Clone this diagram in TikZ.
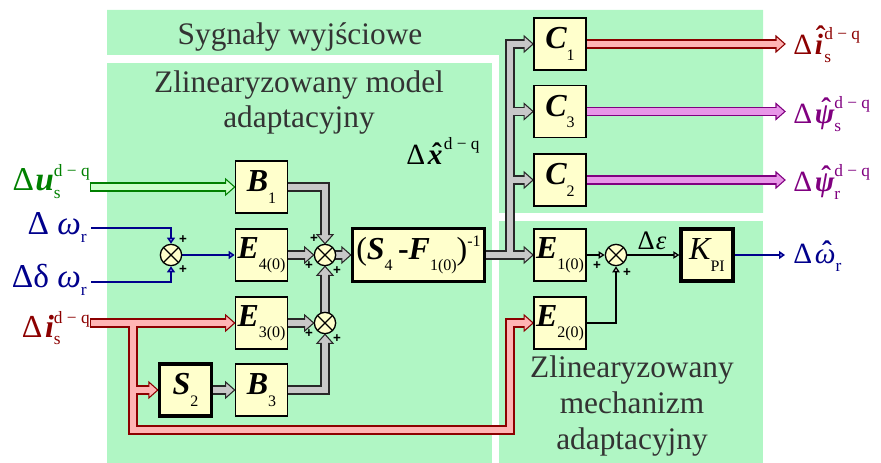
\documentclass[tikz,border=0pt]{standalone}
\usepackage{fontspec}
\setmainfont{Liberation Serif}
\setsansfont{Liberation Sans}
\usetikzlibrary{arrows.meta}
\pgfdeclarelayer{regions}
\pgfdeclarelayer{arrows}
\pgfsetlayers{regions,arrows,main}
\definecolor{regiongreen}{RGB}{176,246,196}
\definecolor{boxy}{RGB}{255,255,204}
\definecolor{titlegray}{RGB}{51,51,51}
\definecolor{ugreen}{RGB}{0,128,0}
\definecolor{ufill}{RGB}{204,255,204}
\definecolor{wblue}{RGB}{0,0,140}
\definecolor{tipblue}{RGB}{150,150,255}
\definecolor{ired}{RGB}{140,0,0}
\definecolor{ifill}{RGB}{255,180,180}
\definecolor{pviolet}{RGB}{128,0,128}
\definecolor{pfill}{RGB}{232,150,232}
\definecolor{gborder}{RGB}{40,40,40}
\definecolor{gfill}{RGB}{200,200,200}
\definecolor{tipgray}{RGB}{190,190,190}
\newcommand\fsz[1]{\fontsize{#1}{#1}\selectfont}
\newcommand\bi[1]{{\bfseries\itshape #1}}
\newcommand\bsub[1]{\raisebox{-8.5pt}{\fsz{12}#1}}
\newcommand\supsb[3][10.5pt]{\setbox0\hbox{\fsz{13}\raisebox{#1}{#2}}\setbox2\hbox{\fsz{13}\raisebox{-5.5pt}{#3}}\ifdim\wd0>\wd2\relax\rlap{\box2}\box0\else\rlap{\box0}\box2\fi}
\newcommand\lsub[1]{\raisebox{-6pt}{\fsz{13}#1}}
\newcommand\hatit[2][0.12em]{\setbox0\hbox{#2}\rlap{\hbox to\wd0{\hss\kern#1\raisebox{\dimexpr\ht0-0.42em\relax}{\bfseries ˆ}\hss}}\box0}
\newcommand\hdR[3]{\filldraw[fill=#2,draw=#1,line width=0.8pt,line join=miter] (#3) -- ++(-9,-8) -- ++(0,16) -- cycle;}
\newcommand\hdD[3]{\filldraw[fill=#2,draw=#1,line width=0.8pt,line join=miter] (#3) -- ++(-8,-9) -- ++(16,0) -- cycle;}
\newcommand\hdU[3]{\filldraw[fill=#2,draw=#1,line width=0.8pt,line join=miter] (#3) -- ++(-8,9) -- ++(16,0) -- cycle;}
\begin{document}
\begin{tikzpicture}[x=0.75pt,y=-0.75pt,
  box/.style={draw=black,line width=1.3pt,fill=boxy,minimum width=39pt,minimum height=39pt,inner sep=0pt,font=\fsz{24}},
  tbox/.style={box,line width=2.5pt},
  sumn/.style={circle,draw=black,line width=1pt,fill=boxy,minimum size=16pt,inner sep=0pt,
    path picture={\draw[line width=1pt] (path picture bounding box.north west) -- (path picture bounding box.south east)
      (path picture bounding box.north east) -- (path picture bounding box.south west);}},
  plus/.style={font=\sffamily\bfseries\fsz{10},inner sep=0pt},
  title/.style={anchor=base,text=titlegray,font=\fontsize{23.5}{27}\selectfont,inner sep=0pt},
  lbl/.style={inner sep=0pt},
  fatb/.style={line width=6.8pt,line join=miter,shorten >=6.4pt,shorten <=-0.8pt},
  fatf/.style={line width=5.1pt,line join=miter,shorten >=5.3pt},
  thinb/.style={draw=wblue,line width=1.1pt,-{Triangle[length=4.5pt,width=6pt,fill=tipblue]}},
  think/.style={draw=black,line width=0.9pt,-{Triangle[length=4.5pt,width=5.5pt,fill=tipgray]}}]
\useasboundingbox (0,0) rectangle (881,463);
\begin{pgfonlayer}{regions}
\fill[regiongreen] (107,10) -- (763,10) -- (763,213) -- (499,213) -- (499,55) -- (107,55) -- cycle;
\fill[regiongreen] (107,63) rectangle (492,463);
\fill[regiongreen] (499,221) rectangle (763,463);
\end{pgfonlayer}
% region titles
\node[title] (t1) at (300,45) {Sygnały wyjściowe};
\node[title] (t2a) at (299,93) {Zlinearyzowany model};
\node[title] (t2b) at (299,128) {adaptacyjny};
\node[title] (t3a) at (632,377) {Zlinearyzowany};
\node[title] (t3b) at (632,413) {mechanizm};
\node[title] (t3c) at (632,449) {adaptacyjny};
% blocks
\node[box] (B1) at (261.5,187) {\bi{B}\bsub{1}};
\node[box] (E4) at (261.5,255) {\bi{E}\bsub{4(0)}};
\node[box] (E3) at (261.5,323) {\bi{E}\bsub{3(0)}};
\node[tbox] (S2) at (185.5,390) {\bi{S}\bsub{2}};
\node[box] (B3) at (261.5,390) {\bi{B}\bsub{3}};
\node[tbox,minimum width=99pt,minimum height=40pt] (Blk) at (418.5,255) {(\bi{S}\bsub{4}\,{\bfseries -}\bi{F}\bsub{1(0)})\raisebox{10pt}{\fsz{12}-1}};
\node[box] (C1) at (560,44) {\bi{C}\bsub{1}};
\node[box] (C3) at (560,111.5) {\bi{C}\bsub{3}};
\node[box] (C2) at (560,180) {\bi{C}\bsub{2}};
\node[box] (E1) at (560,255) {\bi{E}\bsub{1(0)}};
\node[box] (E2) at (560,323) {\bi{E}\bsub{2(0)}};
\node[tbox] (KPI) at (707,255) {{\itshape K}\bsub{PI}};
% summing junctions
\node[sumn] (s1) at (171,255) {};
\node[sumn] (s2) at (325,255) {};
\node[sumn] (s3) at (325,323) {};
\node[sumn] (s4) at (616,255) {};
\node[plus] (p1) at (183,240) {+};
\node[plus] (p2) at (183,270) {+};
\node[plus] (p3) at (314,239) {+};
\node[plus] (p4) at (309,266) {+};
\node[plus] (p5) at (337,271) {+};
\node[plus] (p6) at (309,334) {+};
\node[plus] (p7) at (337,339) {+};
\node[plus] (p8) at (597,266) {+};
\node[plus] (p9) at (627,273) {+};
% signal labels
\node[lbl,anchor=base east,text=ugreen,font=\fsz{25}] (lu) at (90,191) {Δ\kern1pt\bi{u}\supsb{d − q}{s}};
\node[lbl,anchor=base east,text=wblue,font=\fsz{25}] (lw) at (87,234) {Δ {\itshape ω}\lsub{r}};
\node[lbl,anchor=base east,text=wblue,font=\fsz{25}] (ldw) at (87,287) {Δδ {\itshape ω}\lsub{r}};
\node[lbl,anchor=base east,text=ired,font=\fsz{24}] (li) at (90,337) {Δ\kern2pt\bi{i}\supsb{d − q}{s}};
\node[lbl,anchor=base west,text=ired,font=\fsz{22}] (lo1) at (793,55) {Δ\kern2pt\hatit{\bi{i}}\kern1pt\supsb[11.5pt]{d − q}{s}};
\node[lbl,anchor=base west,text=pviolet,font=\fsz{22}] (lo3) at (793,124) {Δ\kern2pt\hatit{\bi{ψ}}\supsb[11.5pt]{d − q}{s}};
\node[lbl,anchor=base west,text=pviolet,font=\fsz{22}] (lo2) at (793,192) {Δ\kern2pt\hatit{\bi{ψ}}\supsb[11.5pt]{d − q}{r}};
\node[lbl,anchor=base west,text=wblue,font=\fsz{22}] (low) at (793,263) {Δ\kern2pt\hatit{\itshape ω}\lsub{r}};
\node[lbl,anchor=base west,font=\fsz{22}] (lx) at (406,165) {Δ\kern2pt\hatit{\bi{x}}\kern1pt\raisebox{11.5pt}{\fsz{13}d − q}};
\node[lbl,anchor=base,font=\fsz{20}] (le) at (652,250) {Δ\kern1pt{\itshape ε}};
% free ends
\coordinate (uin) at (91,187);
\coordinate (win) at (91,228);
\coordinate (dwin) at (91,282);
\coordinate (iin) at (91,323);
\coordinate (pb) at (133,323);
\coordinate (pc) at (133,430);
\coordinate (pd) at (510,430);
\coordinate (tb) at (510,255);
\coordinate (o1) at (785,44);
\coordinate (o3) at (785,111.5);
\coordinate (o2) at (785,180);
\coordinate (ow) at (785,255);
\begin{pgfonlayer}{arrows}
% green input
\draw[fatb,draw=ugreen] (uin) -- (B1.west);
\hdR{ugreen}{ufill}{B1.west}
\draw[fatf,draw=ufill] (uin) -- (B1.west);
% gray network
\draw[fatb,draw=gborder] (B1.east) -- (B1.east -| s2) -- (s2.north);
\draw[fatb,draw=gborder] (E4.east) -- (s2.west);
\draw[fatb,draw=gborder] (s3.north) -- (s2.south);
\draw[fatb,draw=gborder] (E3.east) -- (s3.west);
\draw[fatb,draw=gborder] (B3.east) -- (B3.east -| s3) -- (s3.south);
\draw[fatb,draw=gborder] (S2.east) -- (B3.west);
\draw[fatb,draw=gborder] (s2.east) -- (Blk.west);
\draw[fatb,draw=gborder] (Blk.east) -- (E1.west);
\draw[fatb,draw=gborder] (tb) -- (tb |- C1) -- (C1.west);
\draw[fatb,draw=gborder] (tb |- C3) -- (C3.west);
\draw[fatb,draw=gborder] (tb |- C2) -- (C2.west);
\hdD{gborder}{gfill}{s2.north}
\hdR{gborder}{gfill}{s2.west}
\hdU{gborder}{gfill}{s2.south}
\hdR{gborder}{gfill}{s3.west}
\hdU{gborder}{gfill}{s3.south}
\hdR{gborder}{gfill}{B3.west}
\hdR{gborder}{gfill}{Blk.west}
\hdR{gborder}{gfill}{E1.west}
\hdR{gborder}{gfill}{C1.west}
\hdR{gborder}{gfill}{C3.west}
\hdR{gborder}{gfill}{C2.west}
\draw[fatf,draw=gfill] (B1.east) -- (B1.east -| s2) -- (s2.north);
\draw[fatf,draw=gfill] (E4.east) -- (s2.west);
\draw[fatf,draw=gfill] (s3.north) -- (s2.south);
\draw[fatf,draw=gfill] (E3.east) -- (s3.west);
\draw[fatf,draw=gfill] (B3.east) -- (B3.east -| s3) -- (s3.south);
\draw[fatf,draw=gfill] (S2.east) -- (B3.west);
\draw[fatf,draw=gfill] (s2.east) -- (Blk.west);
\draw[fatf,draw=gfill] (Blk.east) -- (E1.west);
\draw[fatf,draw=gfill] (tb) -- (tb |- C1) -- (C1.west);
\draw[fatf,draw=gfill] (tb |- C3) -- (C3.west);
\draw[fatf,draw=gfill] (tb |- C2) -- (C2.west);
% red network
\draw[fatb,draw=ired] (iin) -- (E3.west);
\draw[fatb,draw=ired] (pb) -- (pc) -- (pd) -- (pd |- E2) -- (E2.west);
\draw[fatb,draw=ired] (pb |- S2) -- (S2.west);
\draw[fatb,draw=ired] (C1.east) -- (o1);
\hdR{ired}{ifill}{E3.west}
\hdR{ired}{ifill}{E2.west}
\hdR{ired}{ifill}{S2.west}
\hdR{ired}{ifill}{o1}
\draw[fatf,draw=ifill] (iin) -- (E3.west);
\draw[fatf,draw=ifill] (pb) -- (pc) -- (pd) -- (pd |- E2) -- (E2.west);
\draw[fatf,draw=ifill] (pb |- S2) -- (S2.west);
\draw[fatf,draw=ifill] (C1.east) -- (o1);
% violet outputs
\draw[fatb,draw=pviolet] (C3.east) -- (o3);
\draw[fatb,draw=pviolet] (C2.east) -- (o2);
\hdR{pviolet}{pfill}{o3}
\hdR{pviolet}{pfill}{o2}
\draw[fatf,draw=pfill] (C3.east) -- (o3);
\draw[fatf,draw=pfill] (C2.east) -- (o2);
% thin signals
\draw[thinb] (win) -- (win -| s1) -- (s1.north);
\draw[thinb] (dwin) -- (dwin -| s1) -- (s1.south);
\draw[thinb] (s1.east) -- (E4.west);
\draw[thinb] (KPI.east) -- (ow);
\draw[think] (E1.east) -- (s4.west);
\draw[think] (E2.east) -- (E2.east -| s4) -- (s4.south);
\draw[think] (s4.east) -- (KPI.west);
\end{pgfonlayer}
\end{tikzpicture}
\end{document}
